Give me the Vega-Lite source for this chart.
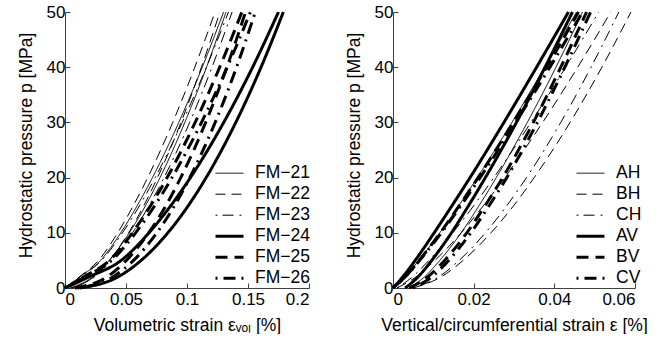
{
  "$schema": "https://vega.github.io/schema/vega-lite/v6.json",
  "padding": {"left": 17, "top": 3, "right": 0, "bottom": 0},
  "background": "white",
  "spacing": 84,
  "bounds": "flush",
  "resolve": {
    "scale": {"strokeDash": "independent", "strokeWidth": "independent"},
    "legend": {"strokeDash": "independent", "strokeWidth": "independent"}
  },
  "config": {
    "font": "Liberation Sans",
    "view": {"stroke": null},
    "axis": {
      "grid": false,
      "domainColor": "#404040",
      "tickColor": "#404040",
      "tickSize": -5,
      "labelFont": "Liberation Sans",
      "labelFontSize": 17,
      "labelColor": "black",
      "titleFont": "Liberation Sans",
      "titleFontSize": 17.5,
      "titleFontWeight": "normal",
      "titleColor": "black"
    },
    "axisX": {"labelPadding": 8, "titlePadding": 9},
    "axisY": {"labelPadding": 5, "titlePadding": 11, "titleY": 133},
    "legend": {
      "orient": "none",
      "title": null,
      "symbolType": "stroke",
      "symbolSize": 784,
      "symbolStrokeColor": "black",
      "labelFont": "Liberation Sans",
      "labelFontSize": 17.5,
      "labelColor": "black",
      "labelOffset": 10,
      "clipHeight": 20.4,
      "rowPadding": 0,
      "padding": 0
    }
  },
  "datasets": {
    "left": [
      {"s":"FM−21","b":"L","p":0,"x":0},{"s":"FM−21","b":"L","p":2,"x":0.0122},{"s":"FM−21","b":"L","p":5,"x":0.0291},{"s":"FM−21","b":"L","p":10,"x":0.0457},{"s":"FM−21","b":"L","p":15,"x":0.0594},{"s":"FM−21","b":"L","p":20,"x":0.0717},{"s":"FM−21","b":"L","p":30,"x":0.0933},{"s":"FM−21","b":"L","p":40,"x":0.1125},{"s":"FM−21","b":"L","p":50,"x":0.130},
      {"s":"FM−21","b":"U","p":0,"x":0.004},{"s":"FM−21","b":"U","p":2,"x":0.0226},{"s":"FM−21","b":"U","p":5,"x":0.0362},{"s":"FM−21","b":"U","p":10,"x":0.0527},{"s":"FM−21","b":"U","p":15,"x":0.0662},{"s":"FM−21","b":"U","p":20,"x":0.0779},{"s":"FM−21","b":"U","p":30,"x":0.0982},{"s":"FM−21","b":"U","p":40,"x":0.1160},{"s":"FM−21","b":"U","p":50,"x":0.132},
      {"s":"FM−22","b":"L","p":0,"x":0},{"s":"FM−22","b":"L","p":2,"x":0.0116},{"s":"FM−22","b":"L","p":5,"x":0.0275},{"s":"FM−22","b":"L","p":10,"x":0.0432},{"s":"FM−22","b":"L","p":15,"x":0.0562},{"s":"FM−22","b":"L","p":20,"x":0.0678},{"s":"FM−22","b":"L","p":30,"x":0.0883},{"s":"FM−22","b":"L","p":40,"x":0.1064},{"s":"FM−22","b":"L","p":50,"x":0.123},
      {"s":"FM−22","b":"U","p":0,"x":0.006},{"s":"FM−22","b":"U","p":2,"x":0.0235},{"s":"FM−22","b":"U","p":5,"x":0.0364},{"s":"FM−22","b":"U","p":10,"x":0.0521},{"s":"FM−22","b":"U","p":15,"x":0.0648},{"s":"FM−22","b":"U","p":20,"x":0.0758},{"s":"FM−22","b":"U","p":30,"x":0.0951},{"s":"FM−22","b":"U","p":40,"x":0.1118},{"s":"FM−22","b":"U","p":50,"x":0.127},
      {"s":"FM−23","b":"L","p":0,"x":0},{"s":"FM−23","b":"L","p":2,"x":0.0126},{"s":"FM−23","b":"L","p":5,"x":0.0300},{"s":"FM−23","b":"L","p":10,"x":0.0471},{"s":"FM−23","b":"L","p":15,"x":0.0613},{"s":"FM−23","b":"L","p":20,"x":0.0739},{"s":"FM−23","b":"L","p":30,"x":0.0961},{"s":"FM−23","b":"L","p":40,"x":0.1159},{"s":"FM−23","b":"L","p":50,"x":0.134},
      {"s":"FM−23","b":"U","p":0,"x":0.005},{"s":"FM−23","b":"U","p":2,"x":0.0241},{"s":"FM−23","b":"U","p":5,"x":0.0382},{"s":"FM−23","b":"U","p":10,"x":0.0553},{"s":"FM−23","b":"U","p":15,"x":0.0691},{"s":"FM−23","b":"U","p":20,"x":0.0812},{"s":"FM−23","b":"U","p":30,"x":0.1022},{"s":"FM−23","b":"U","p":40,"x":0.1205},{"s":"FM−23","b":"U","p":50,"x":0.137},
      {"s":"FM−24","b":"L","p":0,"x":0},{"s":"FM−24","b":"L","p":2,"x":0.0195},{"s":"FM−24","b":"L","p":5,"x":0.0460},{"s":"FM−24","b":"L","p":10,"x":0.0688},{"s":"FM−24","b":"L","p":15,"x":0.0870},{"s":"FM−24","b":"L","p":20,"x":0.1028},{"s":"FM−24","b":"L","p":30,"x":0.1301},{"s":"FM−24","b":"L","p":40,"x":0.1538},{"s":"FM−24","b":"L","p":50,"x":0.175},
      {"s":"FM−24","b":"U","p":0,"x":0.012},{"s":"FM−24","b":"U","p":2,"x":0.0433},{"s":"FM−24","b":"U","p":5,"x":0.0624},{"s":"FM−24","b":"U","p":10,"x":0.0843},{"s":"FM−24","b":"U","p":15,"x":0.1013},{"s":"FM−24","b":"U","p":20,"x":0.1157},{"s":"FM−24","b":"U","p":30,"x":0.1400},{"s":"FM−24","b":"U","p":40,"x":0.1607},{"s":"FM−24","b":"U","p":50,"x":0.179},
      {"s":"FM−25","b":"L","p":0,"x":0},{"s":"FM−25","b":"L","p":2,"x":0.0153},{"s":"FM−25","b":"L","p":5,"x":0.0364},{"s":"FM−25","b":"L","p":10,"x":0.0552},{"s":"FM−25","b":"L","p":15,"x":0.0704},{"s":"FM−25","b":"L","p":20,"x":0.0837},{"s":"FM−25","b":"L","p":30,"x":0.1067},{"s":"FM−25","b":"L","p":40,"x":0.1268},{"s":"FM−25","b":"L","p":50,"x":0.145},
      {"s":"FM−25","b":"U","p":0,"x":0.008},{"s":"FM−25","b":"U","p":2,"x":0.0343},{"s":"FM−25","b":"U","p":5,"x":0.0503},{"s":"FM−25","b":"U","p":10,"x":0.0686},{"s":"FM−25","b":"U","p":15,"x":0.0829},{"s":"FM−25","b":"U","p":20,"x":0.0949},{"s":"FM−25","b":"U","p":30,"x":0.1153},{"s":"FM−25","b":"U","p":40,"x":0.1327},{"s":"FM−25","b":"U","p":50,"x":0.148},
      {"s":"FM−26","b":"L","p":0,"x":0},{"s":"FM−26","b":"L","p":2,"x":0.0160},{"s":"FM−26","b":"L","p":5,"x":0.0382},{"s":"FM−26","b":"L","p":10,"x":0.0579},{"s":"FM−26","b":"L","p":15,"x":0.0738},{"s":"FM−26","b":"L","p":20,"x":0.0877},{"s":"FM−26","b":"L","p":30,"x":0.1119},{"s":"FM−26","b":"L","p":40,"x":0.1330},{"s":"FM−26","b":"L","p":50,"x":0.152},
      {"s":"FM−26","b":"U","p":0,"x":0.010},{"s":"FM−26","b":"U","p":2,"x":0.0392},{"s":"FM−26","b":"U","p":5,"x":0.0562},{"s":"FM−26","b":"U","p":10,"x":0.0753},{"s":"FM−26","b":"U","p":15,"x":0.0900},{"s":"FM−26","b":"U","p":20,"x":0.1023},{"s":"FM−26","b":"U","p":30,"x":0.1231},{"s":"FM−26","b":"U","p":40,"x":0.1406},{"s":"FM−26","b":"U","p":50,"x":0.156}
    ],
    "right": [
      {"s":"AH","b":"L","p":0,"x":0},{"s":"AH","b":"L","p":2,"x":0.0029},{"s":"AH","b":"L","p":5,"x":0.0064},{"s":"AH","b":"L","p":10,"x":0.0116},{"s":"AH","b":"L","p":15,"x":0.0164},{"s":"AH","b":"L","p":20,"x":0.0209},{"s":"AH","b":"L","p":30,"x":0.0295},{"s":"AH","b":"L","p":40,"x":0.0376},{"s":"AH","b":"L","p":50,"x":0.0455},
      {"s":"AH","b":"U","p":0,"x":0.004},{"s":"AH","b":"U","p":2,"x":0.0078},{"s":"AH","b":"U","p":5,"x":0.0116},{"s":"AH","b":"U","p":10,"x":0.0169},{"s":"AH","b":"U","p":15,"x":0.0214},{"s":"AH","b":"U","p":20,"x":0.0256},{"s":"AH","b":"U","p":30,"x":0.0333},{"s":"AH","b":"U","p":40,"x":0.0404},{"s":"AH","b":"U","p":50,"x":0.047},
      {"s":"BH","b":"L","p":0,"x":0.001},{"s":"BH","b":"L","p":2,"x":0.0057},{"s":"BH","b":"L","p":5,"x":0.0104},{"s":"BH","b":"L","p":10,"x":0.0169},{"s":"BH","b":"L","p":15,"x":0.0225},{"s":"BH","b":"L","p":20,"x":0.0277},{"s":"BH","b":"L","p":30,"x":0.0371},{"s":"BH","b":"L","p":40,"x":0.0458},{"s":"BH","b":"L","p":50,"x":0.054},
      {"s":"BH","b":"U","p":0,"x":0.005},{"s":"BH","b":"U","p":2,"x":0.0119},{"s":"BH","b":"U","p":5,"x":0.0174},{"s":"BH","b":"U","p":10,"x":0.0243},{"s":"BH","b":"U","p":15,"x":0.0300},{"s":"BH","b":"U","p":20,"x":0.0350},{"s":"BH","b":"U","p":30,"x":0.0439},{"s":"BH","b":"U","p":40,"x":0.0518},{"s":"BH","b":"U","p":50,"x":0.059},
      {"s":"CH","b":"L","p":0,"x":0.001},{"s":"CH","b":"L","p":2,"x":0.0048},{"s":"CH","b":"L","p":5,"x":0.0089},{"s":"CH","b":"L","p":10,"x":0.0148},{"s":"CH","b":"L","p":15,"x":0.0201},{"s":"CH","b":"L","p":20,"x":0.0250},{"s":"CH","b":"L","p":30,"x":0.0342},{"s":"CH","b":"L","p":40,"x":0.0428},{"s":"CH","b":"L","p":50,"x":0.051},
      {"s":"CH","b":"U","p":0,"x":0.005},{"s":"CH","b":"U","p":2,"x":0.0113},{"s":"CH","b":"U","p":5,"x":0.0164},{"s":"CH","b":"U","p":10,"x":0.0229},{"s":"CH","b":"U","p":15,"x":0.0283},{"s":"CH","b":"U","p":20,"x":0.0331},{"s":"CH","b":"U","p":30,"x":0.0416},{"s":"CH","b":"U","p":40,"x":0.0491},{"s":"CH","b":"U","p":50,"x":0.056},
      {"s":"AV","b":"L","p":0,"x":0},{"s":"AV","b":"L","p":2,"x":0.0024},{"s":"AV","b":"L","p":5,"x":0.0055},{"s":"AV","b":"L","p":10,"x":0.0102},{"s":"AV","b":"L","p":15,"x":0.0147},{"s":"AV","b":"L","p":20,"x":0.0191},{"s":"AV","b":"L","p":30,"x":0.0275},{"s":"AV","b":"L","p":40,"x":0.0356},{"s":"AV","b":"L","p":50,"x":0.0435},
      {"s":"AV","b":"U","p":0,"x":0.003},{"s":"AV","b":"U","p":2,"x":0.0062},{"s":"AV","b":"U","p":5,"x":0.0096},{"s":"AV","b":"U","p":10,"x":0.0145},{"s":"AV","b":"U","p":15,"x":0.0188},{"s":"AV","b":"U","p":20,"x":0.0229},{"s":"AV","b":"U","p":30,"x":0.0306},{"s":"AV","b":"U","p":40,"x":0.0377},{"s":"AV","b":"U","p":50,"x":0.0445},
      {"s":"BV","b":"L","p":0,"x":0},{"s":"BV","b":"L","p":2,"x":0.0030},{"s":"BV","b":"L","p":5,"x":0.0065},{"s":"BV","b":"L","p":10,"x":0.0117},{"s":"BV","b":"L","p":15,"x":0.0165},{"s":"BV","b":"L","p":20,"x":0.0211},{"s":"BV","b":"L","p":30,"x":0.0298},{"s":"BV","b":"L","p":40,"x":0.0381},{"s":"BV","b":"L","p":50,"x":0.046},
      {"s":"BV","b":"U","p":0,"x":0.004},{"s":"BV","b":"U","p":2,"x":0.0086},{"s":"BV","b":"U","p":5,"x":0.0128},{"s":"BV","b":"U","p":10,"x":0.0183},{"s":"BV","b":"U","p":15,"x":0.0229},{"s":"BV","b":"U","p":20,"x":0.0272},{"s":"BV","b":"U","p":30,"x":0.0348},{"s":"BV","b":"U","p":40,"x":0.0416},{"s":"BV","b":"U","p":50,"x":0.048},
      {"s":"CV","b":"L","p":0,"x":0},{"s":"CV","b":"L","p":2,"x":0.0030},{"s":"CV","b":"L","p":5,"x":0.0066},{"s":"CV","b":"L","p":10,"x":0.0120},{"s":"CV","b":"L","p":15,"x":0.0169},{"s":"CV","b":"L","p":20,"x":0.0216},{"s":"CV","b":"L","p":30,"x":0.0304},{"s":"CV","b":"L","p":40,"x":0.0389},{"s":"CV","b":"L","p":50,"x":0.047},
      {"s":"CV","b":"U","p":0,"x":0.005},{"s":"CV","b":"U","p":2,"x":0.0096},{"s":"CV","b":"U","p":5,"x":0.0138},{"s":"CV","b":"U","p":10,"x":0.0193},{"s":"CV","b":"U","p":15,"x":0.0239},{"s":"CV","b":"U","p":20,"x":0.0282},{"s":"CV","b":"U","p":30,"x":0.0358},{"s":"CV","b":"U","p":40,"x":0.0426},{"s":"CV","b":"U","p":50,"x":0.049}
    ]
  },
  "hconcat": [
    {
      "width": 244,
      "height": 276,
      "data": {"name": "left"},
      "mark": {"type": "line", "color": "black", "interpolate": "monotone", "strokeCap": "butt"},
      "encoding": {
        "x": {"field": "x", "type": "quantitative", "scale": {"domain": [0, 0.2], "nice": false, "zero": false},
              "axis": {"values": [0, 0.05, 0.1, 0.15, 0.2], "format": "~g", "title": "Volumetric strain εᵥₒₗ [%]"}},
        "y": {"field": "p", "type": "quantitative", "scale": {"domain": [0, 50], "nice": false},
              "axis": {"values": [0, 10, 20, 30, 40, 50], "title": "Hydrostatic pressure p [MPa]"}},
        "detail": {"field": "b"},
        "order": {"field": "p", "type": "quantitative"},
        "strokeDash": {"field": "s", "type": "nominal",
          "scale": {"domain": ["FM−21", "FM−22", "FM−23", "FM−24", "FM−25", "FM−26"],
                    "range": [[1, 0], [10, 6], [2, 5, 11, 6], [1, 0], [12, 7], [2, 6, 12, 6]]},
          "legend": {"legendX": 149, "legendY": 151}},
        "strokeWidth": {"field": "s", "type": "nominal",
          "scale": {"type": "ordinal", "domain": ["FM−21", "FM−22", "FM−23", "FM−24", "FM−25", "FM−26"],
                    "range": [1, 1, 1, 3, 3, 3]},
          "legend": {"legendX": 149, "legendY": 151}}
      }
    },
    {
      "width": 242,
      "height": 276,
      "data": {"name": "right"},
      "mark": {"type": "line", "color": "black", "interpolate": "monotone", "strokeCap": "butt"},
      "encoding": {
        "x": {"field": "x", "type": "quantitative", "scale": {"domain": [0, 0.06], "nice": false, "zero": false},
              "axis": {"values": [0, 0.02, 0.04, 0.06], "format": "~g", "title": "Vertical/circumferential strain ε [%]"}},
        "y": {"field": "p", "type": "quantitative", "scale": {"domain": [0, 50], "nice": false},
              "axis": {"values": [0, 10, 20, 30, 40, 50], "title": "Hydrostatic pressure p [MPa]"}},
        "detail": {"field": "b"},
        "order": {"field": "p", "type": "quantitative"},
        "strokeDash": {"field": "s", "type": "nominal",
          "scale": {"domain": ["AH", "BH", "CH", "AV", "BV", "CV"],
                    "range": [[1, 0], [10, 6], [2, 5, 11, 6], [1, 0], [12, 7], [2, 6, 12, 6]]},
          "legend": {"legendX": 182, "legendY": 151}},
        "strokeWidth": {"field": "s", "type": "nominal",
          "scale": {"type": "ordinal", "domain": ["AH", "BH", "CH", "AV", "BV", "CV"],
                    "range": [1, 1, 1, 3, 3, 3]},
          "legend": {"legendX": 182, "legendY": 151}}
      }
    }
  ]
}
